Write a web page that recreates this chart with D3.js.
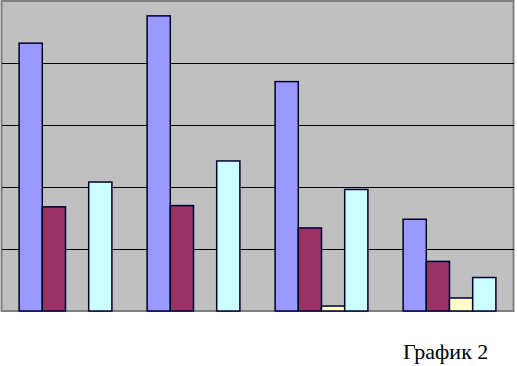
<!DOCTYPE html>
<html>
<meta charset="utf-8">
<style>
body { margin: 0; background: #fff; }
.grid line { stroke: #000; stroke-width: 1; shape-rendering: crispEdges; }
.grid path { display: none; }
rect.bar { stroke: #000033; stroke-width: 1.5; }
.caption { font: 22px "Liberation Serif", "Times New Roman", serif; fill: #000; }
</style>
<body>
<div id="chart"></div>

<script src="https://d3js.org/d3.v7.min.js"></script>
<script>

var groups = ["1", "2", "3", "4"];
var series = ["s1", "s2", "s3", "s4"];
var colors = ["#9999ff", "#993366", "#ffffcc", "#ccffff"];

var s1 = [216, 238, 185, 74];
var s2 = [84, 85, 67, 40];
var s3 = [0, 0, 4, 10.5];
var s4 = [104, 121, 98, 27];

var gridTicks = [50, 100, 150, 200];

var width = 517, height = 366;
var plot = {left: 1.5, right: 513.5, top: 1, bottom: 311};

var svg = d3.select("#chart").append("svg")
    .attr("width", width)
    .attr("height", height);

var x = d3.scaleBand()
    .domain(groups)
    .range([plot.left, plot.right])
    .paddingInner(0.275)
    .paddingOuter(0.1375);

var x1 = d3.scaleBand()
    .domain(series)
    .range([0, x.bandwidth()]);

var y = d3.scaleLinear()
    .domain([0, 250])
    .range([plot.bottom, plot.top]);

svg.append("rect")
    .attr("x", plot.left)
    .attr("y", plot.top)
    .attr("width", plot.right - plot.left)
    .attr("height", plot.bottom - plot.top)
    .attr("fill", "#c0c0c0")
    .attr("stroke", "#808080")
    .attr("stroke-width", 2);

svg.append("g")
    .attr("class", "grid")
    .attr("transform", "translate(" + plot.left + ",0)")
    .call(d3.axisLeft(y).tickValues(gridTicks)
        .tickSize(-(plot.right - plot.left)).tickFormat(""));

var data = [s1, s2, s3, s4];

series.forEach(function(s, i) {
  svg.append("g").selectAll("rect")
    .data(data[i])
    .join("rect")
      .attr("class", "bar")
      .attr("fill", colors[i])
      .attr("x", function(d, j) { return x(groups[j]) + x1(s); })
      .attr("y", function(d) { return y(d); })
      .attr("width", x1.bandwidth())
      .attr("height", function(d) { return y(0) - y(d); })
      .attr("display", function(d) { return d > 0 ? null : "none"; });
});

svg.append("text")
    .attr("class", "caption")
    .attr("x", 403)
    .attr("y", 359)
    .text("График 2");

</script>
</body>
</html>
